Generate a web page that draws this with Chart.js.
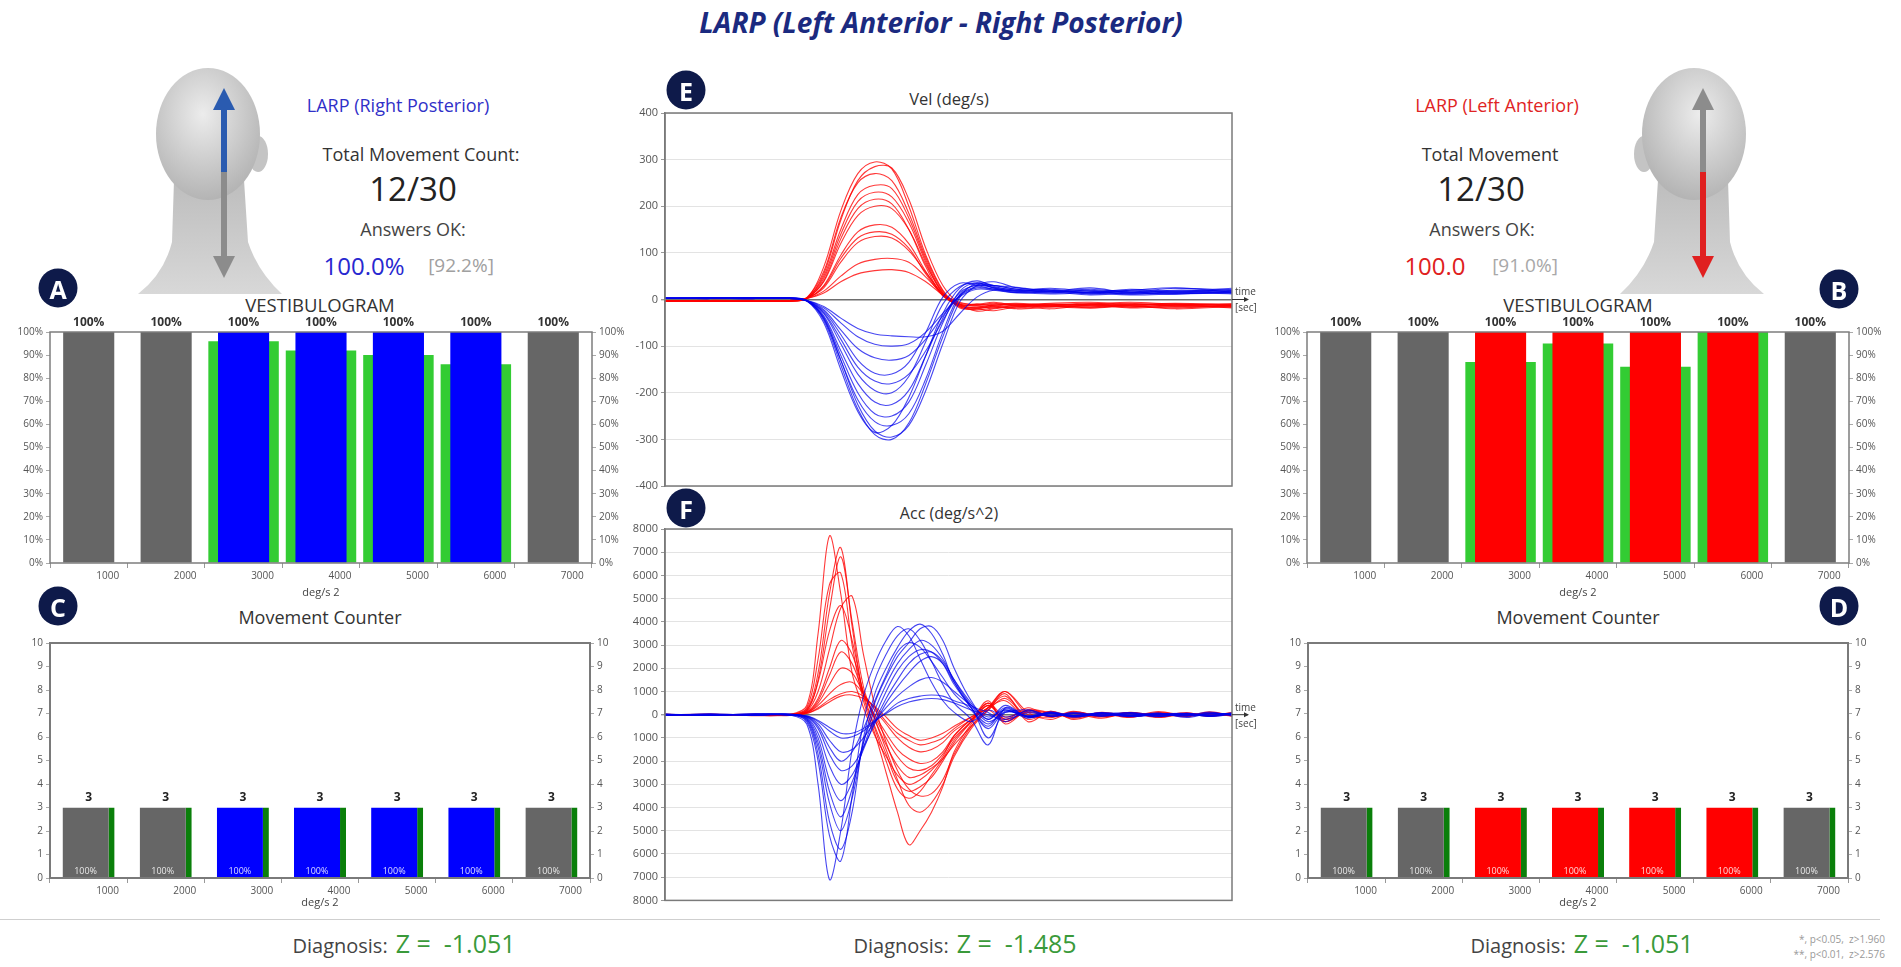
<!DOCTYPE html>
<html>
<head>
<meta charset="utf-8">
<script src="https://cdn.jsdelivr.net/npm/chart.js@4.4.1/dist/chart.umd.min.js"></script>
<style>
html,body{margin:0;padding:0;background:#fff;}
body{width:1901px;height:967px;position:relative;overflow:hidden;font-family:'Open Sans',sans-serif;color:#333;}
.box{position:absolute;}
.t{position:absolute;transform:translate(-50%,-50%);white-space:nowrap;}
.badge{position:absolute;width:39px;height:39px;border-radius:50%;background:#0e1a4a;color:#fff;font:bold 25px 'Open Sans',sans-serif;display:flex;align-items:center;justify-content:center;transform:translate(-50%,-50%);}
.diag{position:absolute;transform:translate(-50%,-50%);white-space:nowrap;display:flex;align-items:baseline;gap:8px;}
.diag .a{font-size:20px;color:#444;}
.diag .z{font-size:25px;color:#3a9a3a;}
.sep{position:absolute;left:0;top:919px;width:1880px;height:1px;background:#cfcfcf;}
.foot{position:absolute;right:16px;font-size:10px;color:#999;text-align:right;}
</style>
</head>
<body>

<div class="t" style="left:941px;top:22px;font:italic bold 28px 'Open Sans',sans-serif;color:#1b2a80">LARP (Left Anterior - Right Posterior)</div>

<!-- heads -->
<svg class="box" style="left:130px;top:62px" width="160" height="235" viewBox="0 0 160 235">
  <defs>
    <radialGradient id="hg1" cx="45%" cy="35%" r="65%"><stop offset="0" stop-color="#ececec"/><stop offset="1" stop-color="#b4b4b4"/></radialGradient>
    <linearGradient id="ng1" x1="0" y1="0" x2="0" y2="1"><stop offset="0" stop-color="#bdbdbd"/><stop offset="1" stop-color="#d8d8d8"/></linearGradient>
  </defs>
  <path d="M44,118 L42,180 Q34,212 8,232 L152,232 Q128,210 118,180 L114,118 Z" fill="url(#ng1)"/>
  <ellipse cx="128" cy="92" rx="10" ry="18" fill="#c4c4c4"/>
  <ellipse cx="78" cy="72" rx="52" ry="66" fill="url(#hg1)"/>
  <line x1="94" y1="110" x2="94" y2="200" stroke="#8c8c8c" stroke-width="6"/>
  <polygon points="94,216 83,194 105,194" fill="#8c8c8c"/>
  <line x1="94" y1="110" x2="94" y2="42" stroke="#2a5bb0" stroke-width="6"/>
  <polygon points="94,26 83,48 105,48" fill="#2a5bb0"/>
</svg>
<svg class="box" style="left:1612px;top:62px" width="160" height="235" viewBox="0 0 160 235">
  <defs>
    <radialGradient id="hg2" cx="55%" cy="35%" r="65%"><stop offset="0" stop-color="#ececec"/><stop offset="1" stop-color="#b4b4b4"/></radialGradient>
    <linearGradient id="ng2" x1="0" y1="0" x2="0" y2="1"><stop offset="0" stop-color="#bdbdbd"/><stop offset="1" stop-color="#d8d8d8"/></linearGradient>
  </defs>
  <path d="M46,118 L42,180 Q32,210 8,232 L152,232 Q126,212 118,180 L116,118 Z" fill="url(#ng2)"/>
  <ellipse cx="32" cy="92" rx="10" ry="18" fill="#c4c4c4"/>
  <ellipse cx="82" cy="72" rx="52" ry="66" fill="url(#hg2)"/>
  <line x1="91" y1="110" x2="91" y2="42" stroke="#8c8c8c" stroke-width="6"/>
  <polygon points="91,26 80,48 102,48" fill="#8c8c8c"/>
  <line x1="91" y1="110" x2="91" y2="200" stroke="#e02020" stroke-width="6"/>
  <polygon points="91,216 80,194 102,194" fill="#e02020"/>
</svg>

<!-- left info -->
<div class="t" style="left:398px;top:105px;font-size:18px;color:#3030c8">LARP (Right Posterior)</div>
<div class="t" style="left:421px;top:154px;font-size:18px;color:#333">Total Movement Count:</div>
<div class="t" style="left:413px;top:188px;font-size:33px;color:#222">12/30</div>
<div class="t" style="left:413px;top:229px;font-size:18px;color:#444">Answers OK:</div>
<div class="t" style="left:364px;top:265px;font-size:24px;color:#2828d0">100.0%</div>
<div class="t" style="left:461px;top:265px;font-size:19px;color:#a0a0a0">[92.2%]</div>

<!-- right info -->
<div class="t" style="left:1497px;top:105px;font-size:18px;color:#e02424">LARP (Left Anterior)</div>
<div class="t" style="left:1490px;top:154px;font-size:18px;color:#333">Total Movement</div>
<div class="t" style="left:1481px;top:188px;font-size:33px;color:#222">12/30</div>
<div class="t" style="left:1482px;top:229px;font-size:18px;color:#444">Answers OK:</div>
<div class="t" style="left:1435px;top:265px;font-size:24px;color:#e02020">100.0</div>
<div class="t" style="left:1525px;top:265px;font-size:19px;color:#a8a8a8">[91.0%]</div>

<!-- panel titles -->
<div class="t" style="left:320px;top:304px;font-size:18.5px;color:#333">VESTIBULOGRAM</div>
<div class="t" style="left:1578px;top:304px;font-size:18.5px;color:#333">VESTIBULOGRAM</div>
<div class="t" style="left:320px;top:617px;font-size:18px;color:#333">Movement Counter</div>
<div class="t" style="left:1578px;top:617px;font-size:18px;color:#333">Movement Counter</div>
<div class="t" style="left:949px;top:98px;font-size:16.5px;color:#333">Vel (deg/s)</div>
<div class="t" style="left:949px;top:513px;font-size:16px;color:#333">Acc (deg/s^2)</div>

<!-- charts -->
<div class="box" style="left:0;top:300px;width:640px;height:300px"><canvas id="vestL"></canvas></div>
<div class="box" style="left:1257px;top:300px;width:640px;height:300px"><canvas id="vestR"></canvas></div>
<div class="box" style="left:0;top:610px;width:640px;height:300px"><canvas id="cntL"></canvas></div>
<div class="box" style="left:1258px;top:610px;width:640px;height:300px"><canvas id="cntR"></canvas></div>
<div class="box" style="left:600px;top:100px;width:680px;height:400px"><canvas id="vel"></canvas></div>
<div class="box" style="left:600px;top:510px;width:680px;height:400px"><canvas id="acc"></canvas></div>

<!-- badges -->
<div class="badge" style="left:58px;top:288px">A</div>
<div class="badge" style="left:1839px;top:289px">B</div>
<div class="badge" style="left:58px;top:606px">C</div>
<div class="badge" style="left:1839px;top:606px">D</div>
<div class="badge" style="left:686px;top:90px">E</div>
<div class="badge" style="left:686px;top:508px">F</div>

<div class="sep"></div>
<div class="diag" style="left:404px;top:943px"><span class="a">Diagnosis:</span><span class="z">Z =&nbsp;&nbsp;-1.051</span></div>
<div class="diag" style="left:965px;top:943px"><span class="a">Diagnosis:</span><span class="z">Z =&nbsp;&nbsp;-1.485</span></div>
<div class="diag" style="left:1582px;top:943px"><span class="a">Diagnosis:</span><span class="z">Z =&nbsp;&nbsp;-1.051</span></div>
<div class="foot" style="top:932px">*, p&lt;0.05,&nbsp; z&gt;1.960</div>
<div class="foot" style="top:947px">**, p&lt;0.01,&nbsp; z&gt;2.576</div>

<script>
// ---- data ----
const cats = ['1000', '2000', '3000', '4000', '5000', '6000', '7000'];

const vestLeftMain   = [100, 100, 100, 100, 100, 100, 100];
const vestLeftGreen  = [null, null, 96, 92, 90, 86, null];
const vestRightMain  = [100, 100, 100, 100, 100, 100, 100];
const vestRightGreen = [null, null, 87, 95, 85, 100, null];

const countLeft     = [3, 3, 3, 3, 3, 3, 3];
const countRight    = [3, 3, 3, 3, 3, 3, 3];
const countPctLeft  = [100, 100, 100, 100, 100, 100, 100];
const countPctRight = [100, 100, 100, 100, 100, 100, 100];

// time grid (relative) for the velocity traces
const tVel = [0, 0.08, 0.16, 0.22, 0.25, 0.28, 0.31, 0.34, 0.37, 0.40, 0.43, 0.46, 0.49, 0.52, 0.55, 0.58, 0.62, 0.68, 0.75, 0.82, 0.90, 1.0];

const velRed = [
  [-3,-2,-4,-3, 3, 70,190,270,295,280,200, 95, 20,-15,-22,-18,-14,-20,-12,-18,-15,-16],
  [-2,-4,-3,-2, 2, 55,170,255,285,282,215,110, 30,-10,-25,-20,-15,-12,-18,-14,-20,-15],
  [-4,-3,-2,-4, 4, 60,175,250,270,255,185, 90, 18,-18,-20,-24,-16,-14,-10,-16,-12,-18],
  [-3,-3,-4,-2, 3, 50,150,225,245,238,175, 85, 15,-12,-18,-15,-20,-16,-14,-12,-16,-14],
  [-2,-3,-3,-3, 2, 45,140,210,230,220,165, 80, 12,-14,-16,-12,-10,-15,-18,-12,-10,-13],
  [-4,-2,-3,-4, 2, 40,130,195,215,205,150, 70,  8,-10,-14,-18,-12,-10,-14,-16,-12,-10],
  [-3,-3,-2,-3, 3, 38,120,180,200,195,150, 75, 14,-16,-20,-14,-12,-16,-10,-14,-18,-12],
  [-2,-4,-3,-2, 2, 30, 95,145,160,155,120, 60, 10,-12,-10,-14,-18,-12, -8,-12,-10,-14],
  [-3,-2,-3,-3, 2, 28, 88,132,145,140,110, 55,  8,-10,-12, -8,-14,-10,-12, -8,-14,-10],
  [-2,-3,-4,-2, 3, 25, 80,122,135,132,105, 58, 12,-14,-18,-12,-10,-14,-16,-10,-12,-16],
  [-3,-2,-3,-3, 2, 18, 50, 76, 86, 88, 80, 48, 12, -6,-12,-10, -8,-12,-10, -6,-10,-12],
  [-2,-3,-2,-3, 2, 14, 38, 55, 62, 64, 58, 38, 10, -8,-10, -6,-12, -8, -6,-10, -8,-10]
];

const velBlue = [
  [3,2,4,3,-3,-45,-140,-235,-290,-300,-265,-180, -80,  5, 35, 30, 22, 18, 25, 15, 20, 18],
  [2,3,2,4,-2,-40,-130,-225,-282,-295,-270,-195, -95, -5, 30, 38, 25, 20, 15, 22, 18, 24],
  [3,4,3,2,-3,-50,-150,-240,-285,-270,-210,-120, -30, 25, 40, 28, 20, 24, 18, 20, 25, 16],
  [2,3,4,3,-2,-42,-130,-215,-262,-270,-245,-170, -70, 10, 32, 30, 26, 18, 22, 16, 24, 20],
  [4,2,3,3,-3,-38,-120,-200,-245,-250,-220,-140, -50, 18, 36, 25, 18, 22, 14, 20, 16, 22],
  [3,3,2,4,-2,-35,-110,-180,-220,-225,-195,-120, -40, 15, 30, 26, 20, 16, 20, 14, 18, 15],
  [2,4,3,2,-3,-30, -95,-160,-195,-200,-165, -90, -10, 28, 35, 24, 18, 20, 12, 18, 14, 20],
  [3,2,4,3,-2,-28, -85,-145,-175,-180,-160,-110, -45, 10, 28, 30, 22, 16, 18, 12, 16, 14],
  [2,3,3,2,-3,-25, -75,-130,-158,-160,-135, -70,   5, 35, 30, 22, 15, 18, 14, 16, 12, 18],
  [3,3,2,3,-2,-22, -65,-105,-125,-130,-120, -85, -35,  8, 25, 22, 18, 14, 16, 12, 15, 12],
  [2,4,3,2,-2,-18, -50, -80, -96,-100, -95, -70, -30,  6, 22, 20, 14, 16, 10, 14, 12, 16],
  [3,2,3,3,-2,-15, -40, -62, -74, -78, -80, -80, -68,-30,  5, 20, 15, 12, 14, 10, 12, 14]
];

// time grid (relative) for the acceleration traces
const tAcc = [0, 0.08, 0.16, 0.22, 0.25, 0.27, 0.29, 0.31, 0.33, 0.35, 0.37, 0.39, 0.41, 0.43, 0.45, 0.47, 0.49, 0.51, 0.54, 0.57, 0.60, 0.64, 0.68, 0.72, 0.77, 0.82, 0.87, 0.92, 0.96, 1.0];

const accRed = [
  [-30,20,-40,10,400,3500,7700,5200,1800,300,-900,-1800,-2600,-3000,-2800,-2400,-1800,-900,-200,300,600,-200,100,-150,80,-100,50,-60,120,-40],
  [20,-30,10,-20,250,1800,5200,7200,3800,800,-600,-2000,-3200,-3600,-3300,-2600,-1900,-1100,-300,500,-300,200,-100,150,-80,60,-120,40,-60,100],
  [-20,10,-30,20,200,1500,4500,6800,4000,1200,-200,-1500,-2800,-3900,-4200,-3800,-3000,-1800,-600,200,900,-300,150,-200,60,-80,140,-50,90,-30],
  [10,-20,30,-10,300,2400,5600,6100,3000,600,-800,-2500,-4200,-5600,-5000,-4200,-3100,-1600,-400,400,-200,300,-100,50,-150,100,-40,80,-70,30],
  [-10,30,-20,10,150,1000,2800,4600,5100,2600,400,-1200,-2400,-3200,-3500,-3400,-2800,-1700,-500,300,1000,100,-200,120,-60,90,-100,60,-30,50],
  [20,-10,10,-30,180,1400,3600,4700,3200,900,-500,-1700,-2900,-3300,-3100,-2700,-2000,-1200,-300,600,-400,200,80,-120,100,-60,30,-90,70,-20],
  [-20,10,-10,20,120,700,2000,3200,2600,1000,-200,-1300,-2200,-2700,-2600,-2300,-1900,-1300,-500,200,700,-100,150,-80,40,-120,90,-30,60,-50],
  [10,-20,20,-10,100,600,1700,2700,2200,900,-100,-1000,-1800,-2300,-2400,-2200,-1700,-1000,-300,400,-200,100,-60,80,-100,50,-20,70,-40,20],
  [-10,20,-20,10,90,500,1300,2000,1800,900,0,-800,-1500,-1900,-2100,-2000,-1600,-900,-200,300,800,-100,60,-90,30,-50,80,-20,40,-60],
  [20,-10,10,-20,80,400,900,1300,1400,900,200,-400,-1000,-1400,-1600,-1500,-1200,-700,-200,500,-100,200,-50,70,-30,90,-60,30,-20,50],
  [-10,10,-20,20,60,300,650,900,1000,800,300,-300,-800,-1100,-1300,-1200,-1000,-600,-100,300,1000,0,-100,50,-80,40,30,-50,60,-20],
  [10,-20,10,-10,50,250,550,800,850,700,350,-100,-600,-900,-1100,-1000,-800,-500,-100,200,-300,150,60,-40,70,-60,20,-30,40,-10]
];

const accBlue = [
  [30,-20,40,-10,-400,-3000,-7100,-5000,-1500,800,2200,3200,3800,3400,2400,1400,600,100,-300,200,-100,150,-80,100,-60,40,-90,60,-40,80],
  [-20,30,-10,20,-300,-2000,-5200,-6300,-3500,-300,1500,2600,3400,3700,3200,2300,1300,500,-200,-1300,300,-100,120,-60,90,-40,70,-120,50,20],
  [20,-10,30,-20,-250,-1700,-4600,-5800,-4200,-1000,900,2000,2900,3600,3900,3500,2600,1400,300,-400,200,-150,60,-100,40,80,-50,30,-70,60],
  [-10,20,-30,10,-200,-1400,-3800,-5000,-3600,-1200,500,1600,2500,3100,3700,3800,3200,2000,600,-200,400,-100,100,-50,70,-90,30,60,-30,40],
  [10,-30,20,-10,-180,-1200,-3300,-4400,-3200,-1200,200,1300,2200,2800,3200,3000,2400,1500,400,-300,100,200,-80,40,-60,90,-20,50,-80,30],
  [-20,10,-10,30,-150,-1000,-2800,-3700,-2900,-1400,-100,1000,1900,2500,2800,2700,2200,1300,300,-600,150,-50,90,-100,30,-40,60,-30,110,-50],
  [20,-20,10,-10,-120,-800,-2200,-3000,-2600,-1500,-300,700,1500,2200,2600,2700,2300,1500,500,-200,300,-100,40,-70,80,-30,20,-60,40,10],
  [-10,20,-20,10,-100,-600,-1700,-2400,-2200,-1400,-400,500,1200,1800,2300,2500,2200,1400,400,100,-300,200,-60,50,-40,70,-80,30,-20,60],
  [10,-10,20,-20,-80,-400,-1100,-1600,-1500,-1000,-300,300,800,1200,1500,1600,1400,1000,400,-100,200,-80,30,-60,50,-20,40,-50,70,-30],
  [-20,10,-10,20,-60,-300,-700,-1000,-950,-700,-300,100,500,700,800,850,800,600,300,-1000,100,-50,60,-30,20,-70,40,-20,30,50],
  [20,-20,30,-10,-50,-250,-550,-800,-800,-600,-250,50,350,550,650,700,650,500,200,0,-200,80,-40,60,-20,30,-50,20,-30,40],
  [-10,30,-20,10,-90,-500,-1400,-2000,-1600,-600,600,1700,2700,3100,2900,2300,1600,900,200,-500,250,-100,70,-40,60,-80,20,40,-60,30]
];

// ---- styles ----
const GRAY = '#666666', BLUE = '#0000ff', RED = '#ff0000', LGREEN = '#33cc33', DGREEN = '#0a7f0a';
const leftColors  = [GRAY, GRAY, BLUE, BLUE, BLUE, BLUE, GRAY];
const rightColors = [GRAY, GRAY, RED, RED, RED, RED, GRAY];

Chart.defaults.font.family = "'Open Sans', sans-serif";
Chart.defaults.color = '#555';

// border round the plot area
const frame = {
  id: 'frame',
  afterDatasetsDraw(chart, args, o) {
    const {ctx, chartArea: a} = chart;
    ctx.save();
    ctx.strokeStyle = o.color || '#808080';
    ctx.lineWidth = o.width || 1.5;
    ctx.strokeRect(a.left, a.top, a.right - a.left, a.bottom - a.top);
    ctx.restore();
  }
};

// "100%" labels above vestibulogram bars
const vestLabels = {
  id: 'vestLabels',
  afterDraw(chart) {
    const meta = chart.getDatasetMeta(0);
    const vals = chart.data.datasets[0].data;
    const ctx = chart.ctx;
    ctx.save();
    ctx.font = "bold 12px 'Open Sans', sans-serif";
    ctx.fillStyle = '#333';
    ctx.textAlign = 'center';
    ctx.textBaseline = 'bottom';
    meta.data.forEach((bar, i) => ctx.fillText(vals[i] + '%', bar.x, bar.y - 3));
    ctx.restore();
  }
};

// count above, percentage inside the counter bars
const countLabels = {
  id: 'countLabels',
  afterDatasetsDraw(chart, args, o) {
    const meta = chart.getDatasetMeta(0);
    const vals = chart.data.datasets[0].data;
    const ctx = chart.ctx;
    ctx.save();
    ctx.textAlign = 'center';
    meta.data.forEach((bar, i) => {
      ctx.font = "bold 12px 'Open Sans', sans-serif";
      ctx.fillStyle = '#222';
      ctx.textBaseline = 'bottom';
      ctx.fillText(String(vals[i]), bar.x, bar.y - 4);
      ctx.font = "9px 'Open Sans', sans-serif";
      ctx.fillStyle = 'rgba(255,255,255,0.85)';
      ctx.textBaseline = 'alphabetic';
      ctx.fillText(o.pct[i] + '%', bar.x - 3, bar.base - 4);
    });
    ctx.restore();
  }
};

// "time [sec]" arrow on the zero line
const timeLabel = {
  id: 'timeLabel',
  afterDraw(chart) {
    const {ctx, chartArea: a, scales: {y}} = chart;
    const py = y.getPixelForValue(0);
    ctx.save();
    ctx.strokeStyle = '#333';
    ctx.fillStyle = '#333';
    ctx.lineWidth = 1;
    ctx.beginPath(); ctx.moveTo(a.right, py); ctx.lineTo(a.right + 16, py); ctx.stroke();
    ctx.beginPath(); ctx.moveTo(a.right + 17, py); ctx.lineTo(a.right + 12, py - 2.5); ctx.lineTo(a.right + 12, py + 2.5); ctx.fill();
    ctx.font = "10px 'Open Sans', sans-serif";
    ctx.fillStyle = '#444';
    ctx.textAlign = 'left';
    ctx.textBaseline = 'bottom';
    ctx.fillText('time', a.right + 3, py - 2);
    ctx.textBaseline = 'top';
    ctx.fillText('[sec]', a.right + 3, py + 4);
    ctx.restore();
  }
};

function xCat(h) {
  return {
    grid: {offset: true, drawOnChartArea: false, tickLength: 5, color: '#999'},
    border: {display: false},
    ticks: {color: '#555', font: {size: 10}, labelOffset: 19, padding: 2, maxRotation: 0},
    title: {display: true, text: 'deg/s 2', color: '#444', font: {size: 11}, padding: {top: 0, bottom: 1}},
    afterFit(s) { s.height = h; }
  };
}

function yAxis(pos, max, step, fmt, w) {
  return {
    position: pos, min: 0, max: max,
    ticks: {stepSize: step, callback: fmt, color: '#555', font: {size: 10}, padding: 3},
    grid: {drawOnChartArea: false, tickLength: 4, color: '#aaa'},
    border: {display: false},
    afterFit(s) { s.width = w; }
  };
}

function vestChart(id, main, green, colors) {
  new Chart(document.getElementById(id), {
    type: 'bar',
    data: {
      labels: cats,
      datasets: [
        {data: main, backgroundColor: colors, grouped: false, order: 1, barPercentage: 0.66, categoryPercentage: 1},
        {data: green, backgroundColor: LGREEN, grouped: false, order: 2, barPercentage: 0.91, categoryPercentage: 1}
      ]
    },
    options: {
      animation: false, responsive: true, maintainAspectRatio: false,
      layout: {padding: {top: 32, right: 0, bottom: 0, left: 0}},
      plugins: {legend: {display: false}, tooltip: {enabled: false}, frame: {color: '#7d7d7d', width: 1.5}},
      scales: {
        x: xCat(37),
        y: yAxis('left', 100, 10, v => v + '%', 50),
        y2: yAxis('right', 100, 10, v => v + '%', 48)
      }
    },
    plugins: [frame, vestLabels]
  });
}

function countChart(id, counts, pcts, colors) {
  new Chart(document.getElementById(id), {
    type: 'bar',
    data: {
      labels: cats,
      datasets: [{
        data: counts, backgroundColor: colors, borderColor: DGREEN,
        borderWidth: {top: 0, right: 6, bottom: 0, left: 0}, borderSkipped: false,
        barPercentage: 0.675, categoryPercentage: 1
      }]
    },
    options: {
      animation: false, responsive: true, maintainAspectRatio: false,
      layout: {padding: {top: 33, right: 0, bottom: 0, left: 0}},
      plugins: {legend: {display: false}, tooltip: {enabled: false}, frame: {color: '#7a7a7a', width: 2}, countLabels: {pct: pcts}},
      scales: {
        x: xCat(32),
        y: yAxis('left', 10, 1, v => v, 50),
        y2: yAxis('right', 10, 1, v => v, 50)
      }
    },
    plugins: [frame, countLabels]
  });
}

function traces(times, rows, color) {
  return rows.map(r => ({
    data: r.map((v, i) => ({x: times[i], y: v})),
    borderColor: color, borderWidth: 1.1, pointRadius: 0, tension: 0.35, fill: false
  }));
}

function traceChart(id, times, blue, red, lim, step, fmt, padTop, padBottom) {
  new Chart(document.getElementById(id), {
    type: 'line',
    data: {datasets: [...traces(times, blue, 'rgba(0,0,235,0.72)'), ...traces(times, red, 'rgba(255,0,0,0.78)')]},
    options: {
      animation: false, responsive: true, maintainAspectRatio: false,
      layout: {padding: {top: padTop, right: 48, bottom: padBottom, left: 0}},
      plugins: {legend: {display: false}, tooltip: {enabled: false}, frame: {color: '#7a7a7a', width: 1.5}},
      scales: {
        x: {type: 'linear', min: 0, max: 1, display: false},
        y: {
          min: -lim, max: lim,
          ticks: {stepSize: step, callback: fmt, color: '#555', font: {size: 11}, padding: 3},
          grid: {
            color: c => (c.tick && c.tick.value === 0) ? '#6e6e6e' : '#e3e3e3',
            lineWidth: c => (c.tick && c.tick.value === 0) ? 1.4 : 1,
            tickLength: 4, tickColor: '#999'
          },
          border: {color: '#7a7a7a', width: 1.5},
          afterFit(s) { s.width = 65; }
        }
      }
    },
    plugins: [frame, timeLabel]
  });
}

vestChart('vestL', vestLeftMain, vestLeftGreen, leftColors);
vestChart('vestR', vestRightMain, vestRightGreen, rightColors);
countChart('cntL', countLeft, countPctLeft, leftColors);
countChart('cntR', countRight, countPctRight, rightColors);
traceChart('vel', tVel, velBlue, velRed, 400, 100, v => v, 13, 14);
traceChart('acc', tAcc, accBlue, accRed, 8000, 1000, v => Math.abs(v), 19, 9);
</script>
</body>
</html>
